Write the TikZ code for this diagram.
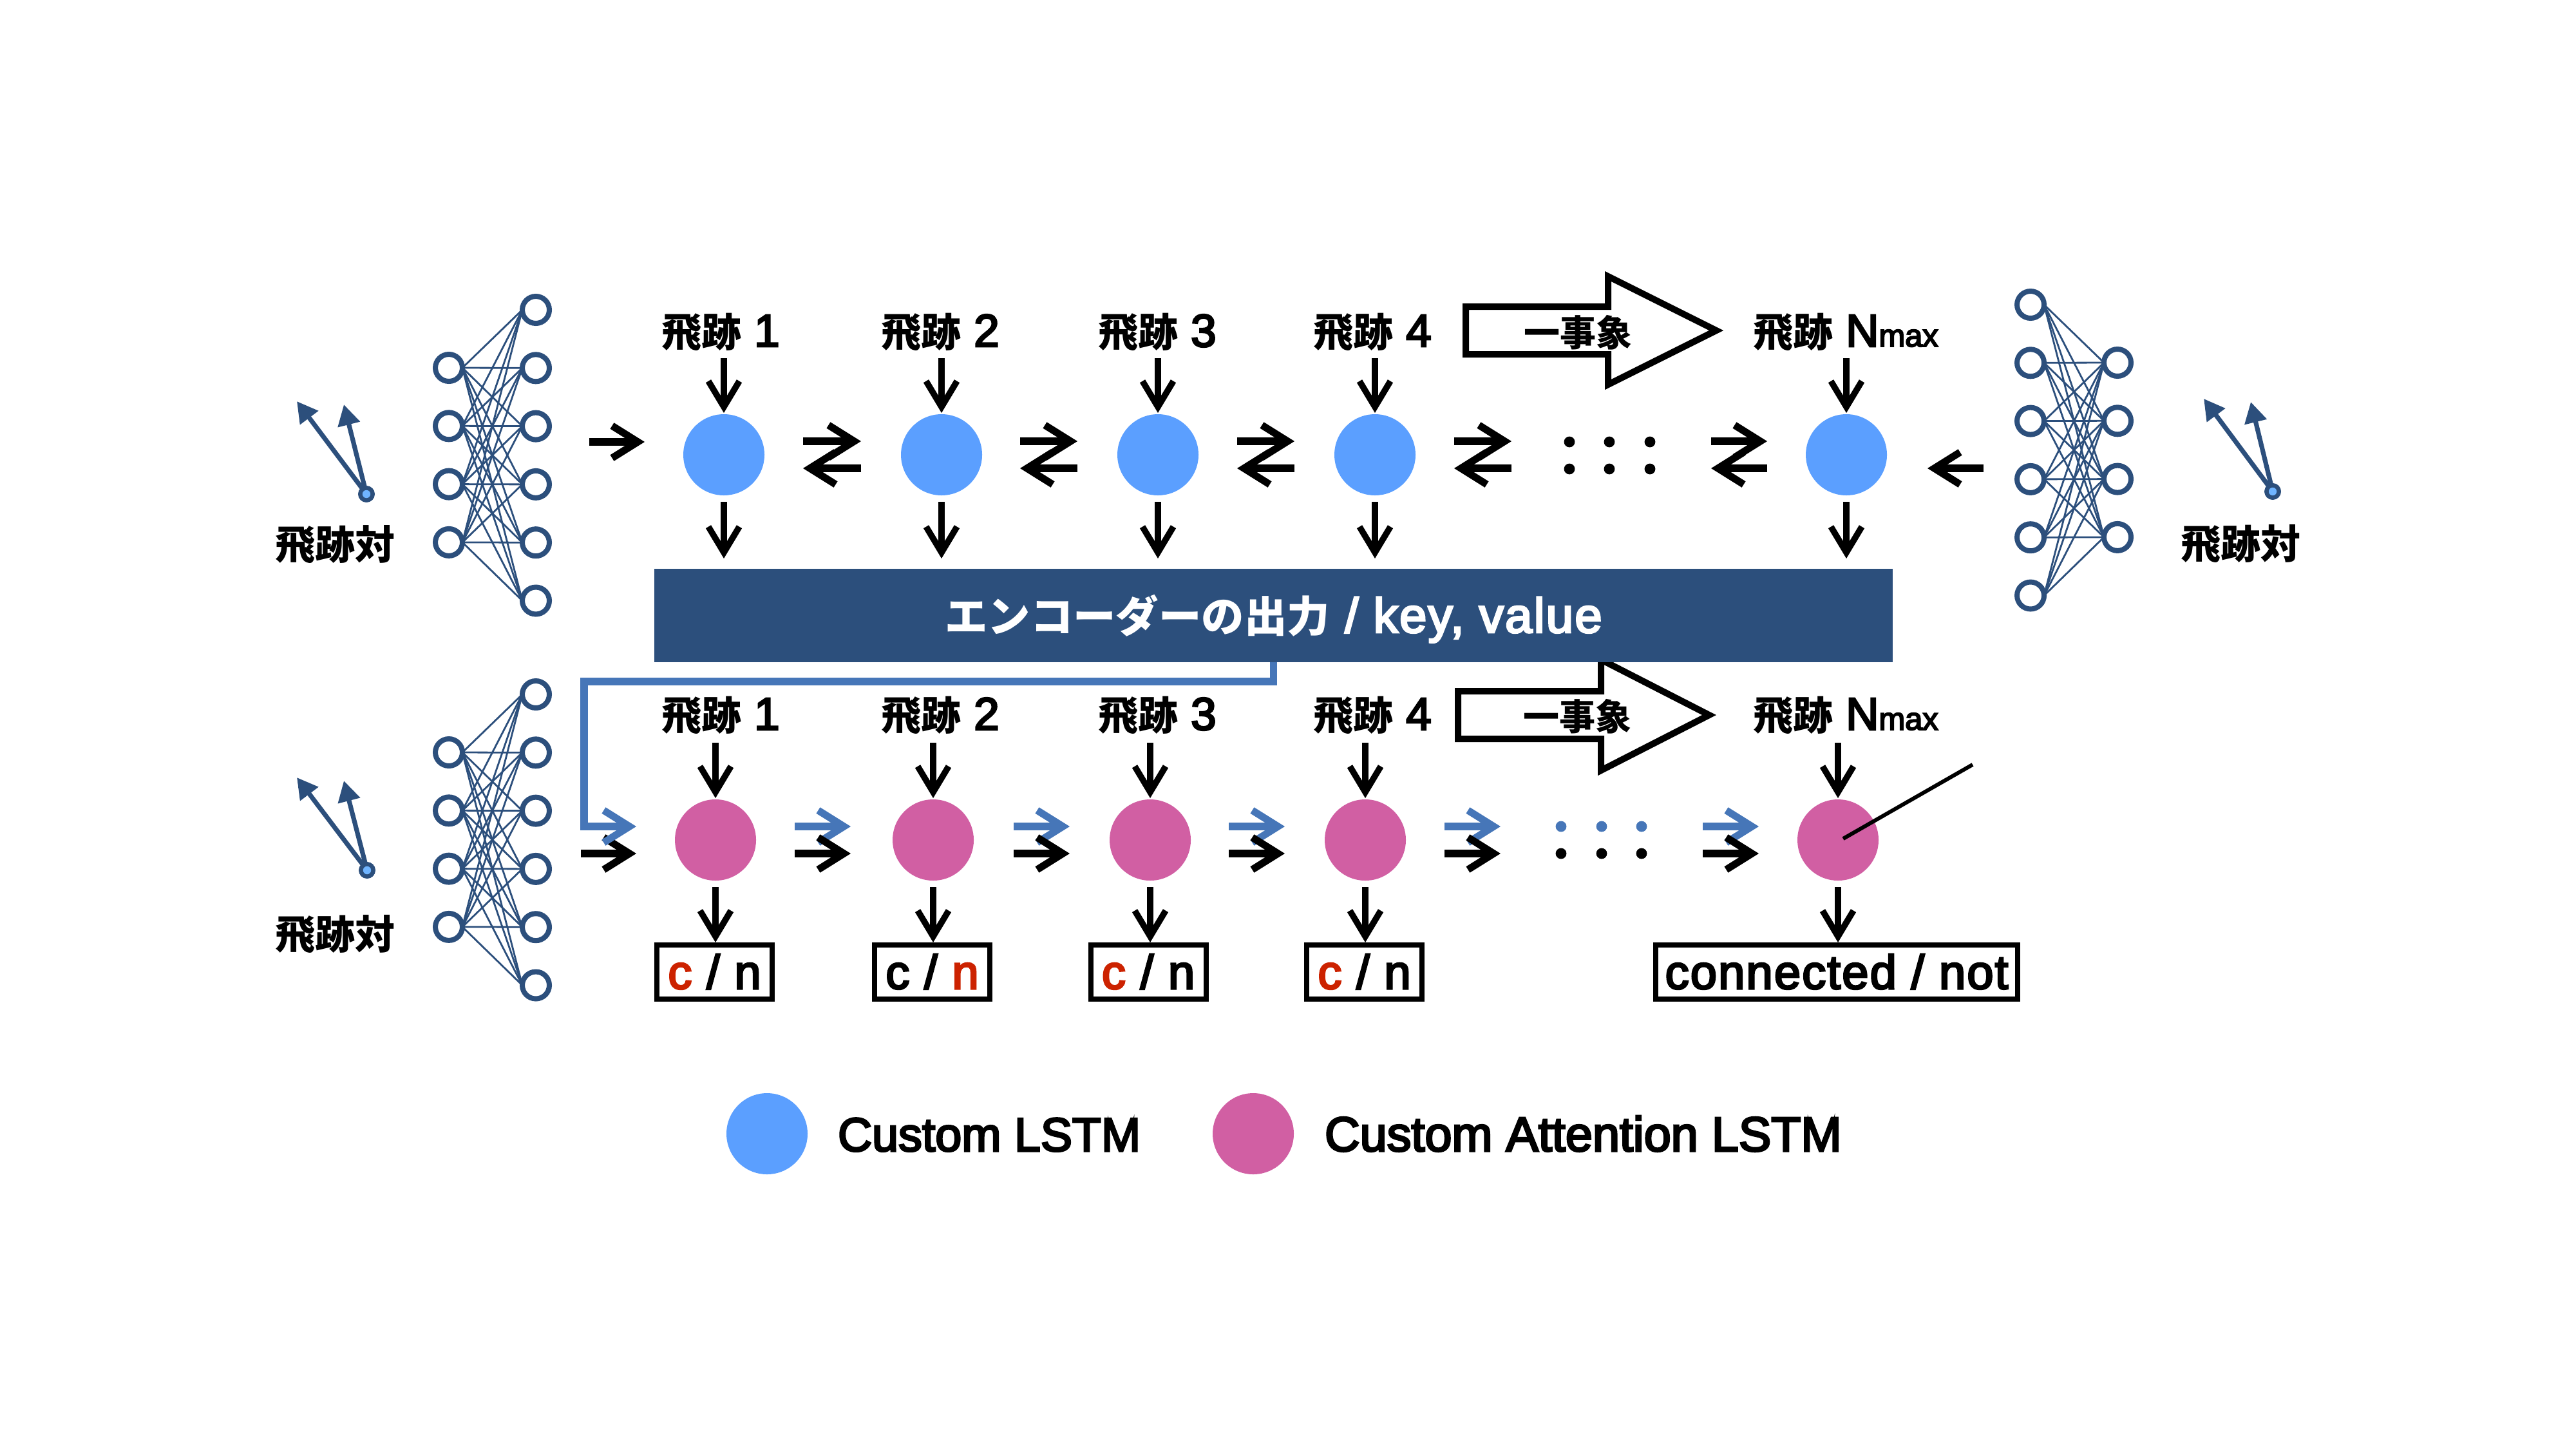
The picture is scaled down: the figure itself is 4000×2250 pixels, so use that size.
\documentclass[tikz,border=0pt]{standalone}
\usepackage{fontspec}
\setmainfont{Noto Sans CJK JP}
\newfontfamily\latin{Liberation Sans}[FakeBold=4]
\newfontfamily\latinw{Liberation Sans}[FakeBold=4,LetterSpace=3]
\usetikzlibrary{arrows.meta,shapes.geometric,calc}
\definecolor{navy}{HTML}{2C4F7C}
\definecolor{linkblue}{HTML}{4676B8}
\definecolor{lstmblue}{HTML}{5B9FFF}
\definecolor{attpink}{HTML}{D15FA3}
\definecolor{redtxt}{HTML}{CC2200}
\definecolor{lightdot}{HTML}{6FB4FF}
\newcommand{\jplab}{\fontsize{15.5}{18}\selectfont\bfseries}
\newcommand{\evlab}{\fontsize{14}{18}\selectfont\bfseries}
\newcommand{\latlab}{\fontsize{17.8}{20}\selectfont\latin}
\newcommand{\latsmall}{\fontsize{12.2}{14}\selectfont\latin}
\newcommand{\cntxt}{\fontsize{18.5}{20}\selectfont\latinw}
\newcommand{\legtxt}{\fontsize{18.4}{20}\selectfont\latin}
\newcommand{\legtxtb}{\fontsize{18.9}{20}\selectfont\latin}
\newcommand{\trk}[1]{{\jplab 飛跡}{\latlab\ #1}}
\tikzset{
  x=0.25pt,y=-0.25pt,
  lstm/.style={circle,fill=lstmblue,minimum size=31.5pt,inner sep=0pt,outer sep=0pt},
  att/.style={circle,fill=attpink,minimum size=31.5pt,inner sep=0pt,outer sep=0pt},
  neuron/.style={circle,draw=navy,fill=white,line width=2pt,minimum size=10.5pt,inner sep=0pt,outer sep=0pt},
  mesh/.style={draw=navy,line width=0.7pt},
  txt/.style={inner sep=0pt,outer sep=0pt,anchor=center,text height=14pt,text depth=2.5pt},
  barb/.style={-{Straight Barb[length=10pt,width=12.5pt]}},
  harr/.style={barb,line width=2.8pt,black},
  varr/.style={-{Straight Barb[length=10pt,width=12pt]},line width=2.4pt,black},
  barr/.style={barb,line width=2.8pt,linkblue},
  dotb/.style={circle,fill=black,minimum width=3.6pt,minimum height=4.2pt,inner sep=0pt},
  dotl/.style={circle,fill=linkblue,minimum width=3.6pt,minimum height=4.2pt,inner sep=0pt},
  track/.style={-{Triangle[length=8pt,width=8.5pt]},draw=navy,line width=1.8pt},
  vtx/.style={circle,draw=navy,fill=lightdot,line width=1.6pt,minimum size=4.8pt,inner sep=0pt,outer sep=0pt},
  bigarrow/.style={draw=black,fill=white,line width=2.5pt,miter limit=10},
  outbox/.style={draw=black,fill=white,line width=2pt,inner sep=0pt,outer sep=0pt,minimum height=21pt,text height=15pt,text depth=2pt,font=\cntxt},
}
\begin{document}
\begin{tikzpicture}
\useasboundingbox (0,0) rectangle (4000,2250);
% ---------- networks
\foreach \n/\lx/\rx/\ly/\ry/\lc/\rc in {
  a/697/832/571/481/4/6,
  b/3153/3288/473/563/6/4,
  c/697/832/1168/1078/4/6}{
  \foreach \i in {1,...,\lc}{\node[neuron] (\n l\i) at (\lx,{\ly+(\i-1)*90.3}) {};}
  \foreach \j in {1,...,\rc}{\node[neuron] (\n r\j) at (\rx,{\ry+(\j-1)*90.3}) {};}
  \foreach \i in {1,...,\lc}{\foreach \j in {1,...,\rc}{\draw[mesh] (\n l\i.east) -- (\n r\j.west);}}
}
% ---------- track pairs
\foreach \n/\vx/\vy/\ax/\ay/\bx/\by/\tx/\ty in {
  p/569/767/461/623/534/628/520/845,
  q/3529/763/3422/619/3495/624/3479/844,
  r/570/1351/461/1207/534/1212/520/1450}{
  \coordinate (\n a) at (\ax,\ay);
  \coordinate (\n b) at (\bx,\by);
  \node[vtx] (\n v) at (\vx,\vy) {};
  \draw[track] (\n v) -- (\n a);
  \draw[track] (\n v) -- (\n b);
  \node[vtx] at (\vx,\vy) {};
  \node[txt,font=\jplab] (\n t) at (\tx,\ty) {飛跡対};
}
% ---------- block arrows
\draw[bigarrow] (2276,476) -- (2497,476) -- (2497,429) -- (2665,513) -- (2497,597) -- (2497,550) -- (2276,550) -- cycle;
\draw[bigarrow] (2264,1073) -- (2486,1073) -- (2486,1024) -- (2654,1110) -- (2486,1196) -- (2486,1147) -- (2264,1147) -- cycle;
\node[txt,font=\evlab] (ev1) at (2450,514) {一事象};
\node[txt,font=\evlab] (ev2) at (2449,1110) {一事象};
% ---------- band
\node[fill=navy,text=white,minimum width=480.75pt,minimum height=36.25pt,inner sep=0pt,outer sep=0pt,text height=15.2pt,text depth=2pt] (band) at (1977.5,955.5) {{\fontsize{16.6}{20}\selectfont\bfseries エンコーダーの出力}{\fontsize{19}{20}\selectfont\latinw\ / key, value}};
% ---------- upper row
\foreach \i/\x/\lx/\t in {1/1124/1119/1,2/1462/1460/2,3/1798/1797/3,4/2135/2131/4}{
  \node[lstm] (c\i) at (\x,706) {};
  \node[txt] (ul\i) at (\lx,515) {\trk{\t}};
}
\node[lstm] (c5) at (2867,706) {};
\node[txt] (ul5) at (2866,515) {\trk{N}{\latsmall max}};
\foreach \i in {1,...,5}{
  \coordinate (ui\i) at (c\i |- 0,556);
  \draw[varr,shorten >=0.5pt] (ui\i) -- (c\i.north);
  \draw[varr,shorten <=2.5pt,shorten >=4pt] (c\i.south) -- (c\i.south |- band.north);
}
\foreach \a/\b in {1247/1337,1584/1673,1921/2010,2258/2347,2657/2744}{
  \coordinate (ra) at (\a,685); \coordinate (rb) at (\b,685);
  \coordinate (la) at (\b,727); \coordinate (lb) at (\a,727);
  \draw[harr] (ra) -- (rb);
  \draw[harr] (la) -- (lb);
}
\foreach \x/\i in {2437/1,2499/2,2562/3}{
  \node[dotb] (ud\i) at (\x,686) {};
  \node[dotb] (vd\i) at (\x,728) {};
}
\coordinate (ua) at (915,686); \coordinate (ub) at (1001,686);
\draw[harr] (ua) -- (ub);
\coordinate (uc) at (3080,727); \coordinate (ud) at (2993,727);
\draw[harr] (uc) -- (ud);
% ---------- lower row
\foreach \i/\x/\lx/\t in {1/1111/1119/1,2/1449/1460/2,3/1786/1797/3,4/2120/2131/4}{
  \node[att] (m\i) at (\x,1304) {};
  \node[txt] (ll\i) at (\lx,1110) {\trk{\t}};
}
\node[att] (m5) at (2854,1304) {};
\node[txt] (ll5) at (2866,1110) {\trk{N}{\latsmall max}};
\node[outbox,minimum width=44.75pt] (box1) at (1109.5,1509) {\textcolor{redtxt}{c} / n};
\node[outbox,minimum width=44.75pt] (box2) at (1447.5,1509) {c / \textcolor{redtxt}{n}};
\node[outbox,minimum width=44.75pt] (box3) at (1783,1509) {\textcolor{redtxt}{c} / n};
\node[outbox,minimum width=44.75pt] (box4) at (2118.5,1509) {\textcolor{redtxt}{c} / n};
\node[outbox,minimum width=140.5pt] (box5) at (2852,1509) {connected / not};
\foreach \i in {1,...,5}{
  \coordinate (li\i) at (m\i |- 0,1153);
  \draw[varr,shorten >=0.5pt] (li\i) -- (m\i.north);
  \draw[varr,shorten <=2.5pt,shorten >=1pt] (m\i.south) -- (m\i.south |- box\i.north);
}
\foreach \a/\b in {1234/1321,1574/1661,1908/1995,2243/2330,2644/2731}{
  \coordinate (ba) at (\a,1283); \coordinate (bb) at (\b,1283);
  \coordinate (ka) at (\a,1325); \coordinate (kb) at (\b,1325);
  \draw[barr] (ba) -- (bb);
  \draw[harr] (ka) -- (kb);
}
\foreach \x/\i in {2424/1,2487/2,2549/3}{
  \node[dotl] (bd\i) at (\x,1283) {};
  \node[dotb] (kd\i) at (\x,1325) {};
}
\coordinate (ka0) at (902,1325); \coordinate (kb0) at (988,1325);
\draw[harr] (ka0) -- (kb0);
\coordinate (bt) at (907,1058); \coordinate (be) at (988,1283);
\draw[barr] (band.south) |- (bt) |- (be);
% ---------- diagonal line
\coordinate (dg) at (3063,1187);
\draw[line width=1.5pt,black] ($(m5.center)+(8,-2)$) -- (dg);
% ---------- legend
\node[lstm] (lg1) at (1191,1760) {};
\node[att] (lg2) at (1946,1760) {};
\node[inner sep=0pt,outer sep=0pt,anchor=base west,font=\legtxt] (lt1) at (1301,1787) {Custom LSTM};
\node[inner sep=0pt,outer sep=0pt,anchor=base west,font=\legtxtb] (lt2) at (2057,1787) {Custom Attention LSTM};
\end{tikzpicture}
\end{document}
